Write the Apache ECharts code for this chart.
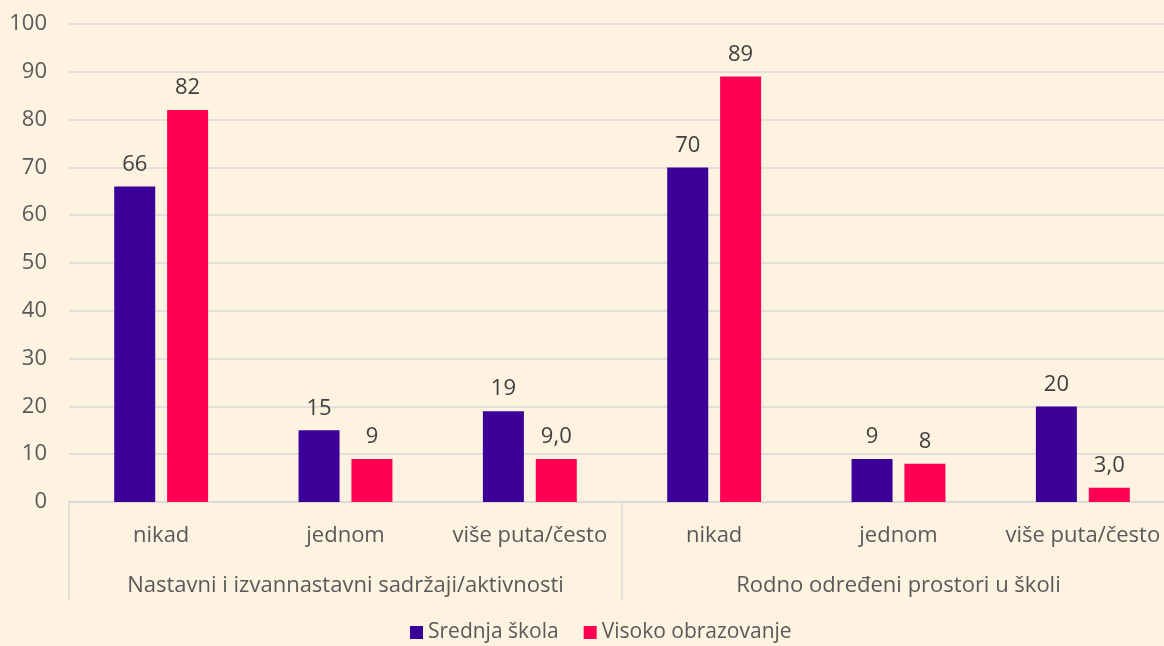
<!DOCTYPE html>
<html>
<head>
<meta charset="utf-8">
<script src="https://cdn.jsdelivr.net/npm/echarts@6/dist/echarts.min.js"></script>
<style>
	html, body { margin: 0; padding: 0; background: #fef2e0; }
	#chart { width: 1164px; height: 646px; }
</style>
</head>
<body>
<div id="chart"></div>
<script>
var categories = ['nikad', 'jednom', 'više puta/često', 'nikad', 'jednom', 'više puta/često'];
var groups = ['Nastavni i izvannastavni sadržaji/aktivnosti', 'Rodno određeni prostori u školi'];
var seriesNames = ['Srednja škola', 'Visoko obrazovanje'];
var srednjaValues = [66, 15, 19, 70, 9, 20];
var visokoValues = [82, 9, 9, 89, 8, 3];
// labels as printed in the source (some carry one decimal)
var srednjaLabels = ['66', '15', '19', '70', '9', '20'];
var visokoLabels = ['82', '9', '9,0', '89', '8', '3,0'];
var yTicks = { min: 0, max: 100, interval: 10 };

(function(){
	var font = 'Open Sans';
	var size = 22;
	var grey = '#595959';
	var gridColor = '#d9d9d9';
	var chart = echarts.init(document.getElementById('chart'));

	function labelFrom(list){
		return {
			show: true,
			position: 'top',
			distance: 11,
			fontFamily: font,
			fontSize: size,
			color: '#404040',
			formatter: function(p){ return list[p.dataIndex]; }
		};
	}

	chart.setOption({
		backgroundColor: '#fef2e0',
		animation: false,
		// plot runs past the right edge, as in the source picture
		grid: { left: 69, top: 24, height: 478, width: 1106, outerBoundsMode: 'none' },
		legend: {
			data: seriesNames,
			left: 405,
			top: 617,
			itemWidth: 13,
			itemHeight: 13,
			itemGap: 25,
			icon: 'rect',
			textStyle: { fontFamily: font, fontSize: 21, color: grey, padding: [0, 0, 0, 0] }
		},
		xAxis: [{
			type: 'category',
			data: categories,
			axisLine: { lineStyle: { color: gridColor, width: 1.5 } },
			axisTick: { show: false },
			axisLabel: { interval: 0, margin: 23, fontFamily: font, fontSize: size, color: grey }
		}, {
			type: 'category',
			data: groups,
			position: 'bottom',
			axisLine: { show: false },
			axisTick: { show: true, length: 98, lineStyle: { color: gridColor, width: 1.5 } },
			axisLabel: { interval: 0, margin: 73, fontFamily: font, fontSize: size, color: grey }
		}],
		yAxis: {
			type: 'value',
			min: yTicks.min,
			max: yTicks.max,
			interval: yTicks.interval,
			axisLine: { show: false },
			axisTick: { show: false },
			axisLabel: { margin: 22, fontFamily: font, fontSize: size, color: grey },
			splitLine: { lineStyle: { color: gridColor, width: 1.5 } }
		},
		series: [{
			name: seriesNames[0],
			type: 'bar',
			data: srednjaValues,
			barWidth: 41,
			barGap: '29%',
			itemStyle: { color: '#3a0097' },
			label: labelFrom(srednjaLabels)
		}, {
			name: seriesNames[1],
			type: 'bar',
			data: visokoValues,
			barWidth: 41,
			barGap: '29%',
			itemStyle: { color: '#ff0052' },
			label: labelFrom(visokoLabels)
		}]
	});
}());
</script>
</body>
</html>
